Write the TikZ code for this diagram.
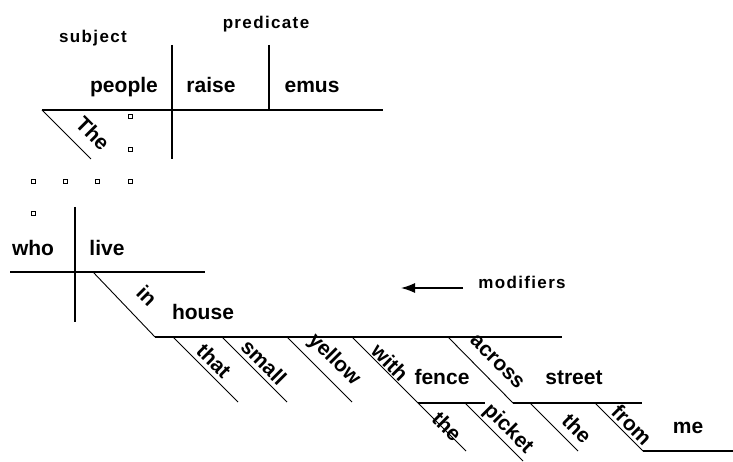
\documentclass[tikz,border=0pt]{standalone}
\usepackage{fontspec}
\setmainfont{Liberation Sans}
\newfontfamily\tagfont{Liberation Sans Bold}[LetterSpace=8]
\usetikzlibrary{arrows.meta}

\begin{document}
\begin{tikzpicture}[
  x=1pt,
  y=-1pt,
  inner sep=0pt,
  word/.style={
    font=\fontsize{21}{24}\selectfont\bfseries,
    anchor=base
  },
  tilted/.style={
    font=\fontsize{21}{24}\selectfont\bfseries,
    rotate=-45
  },
  tag/.style={
    font=\tagfont\fontsize{17}{20}\selectfont,
    anchor=base
  },
  rule/.style={
    line width=1.2pt
  },
  slant/.style={
    line width=0.9pt
  },
  dotbox/.style={
    line width=0.8pt
  },
  a/.style={
    -{Latex[length=14pt,width=10pt]},
    line width=1.2pt
  }
  ]
  \useasboundingbox (0,0) rectangle (733,462);

  % main clause
  \coordinate (base-l) at (42,110);
  \coordinate (base-r) at (383,110);
  \coordinate (split-top) at (172,45);
  \coordinate (split-bot) at (172,159);
  \coordinate (obj-top) at (269,45);
  \coordinate (obj-bot) at (269,110);
  \coordinate (the-end) at (91,159);

  \node (subject) [tag] at (93,43) {subject};
  \node (predicate) [tag] at (266,29) {predicate};
  \node (people) [word] at (124,93) {people};
  \node (raise) [word] at (211,93) {raise};
  \node (emus) [word] at (312,93) {emus};
  \node (the-det) [tilted] at (93,133) {The};

  \draw [rule] (base-l) -- (base-r);
  \draw [rule] (split-top) -- (split-bot);
  \draw [rule] (obj-top) -- (obj-bot);
  \draw [slant] (base-l) -- (the-end);

  % dots
  \foreach \x/\y in {130/116, 130/149, 33/181, 65/181, 97/181, 130/181, 33/213}
    \draw [dotbox] (\x-2,\y-2) rectangle (\x+2,\y+2);

  % relative clause
  \coordinate (clause-l) at (10,272);
  \coordinate (clause-r) at (205,272);
  \coordinate (who-top) at (75,207);
  \coordinate (who-bot) at (75,322);
  \coordinate (in-top) at (93,272);
  \coordinate (house-l) at (155,337);
  \coordinate (house-r) at (562,337);

  \node (who) [word] at (33,255) {who};
  \node (live) [word] at (107,255) {live};
  \node (in-prep) [tilted] at (147,296) {in};
  \node (house) [word] at (203,319) {house};

  \draw [rule] (clause-l) -- (clause-r);
  \draw [rule] (who-top) -- (who-bot);
  \draw [slant] (in-top) -- (house-l);
  \draw [rule] (house-l) -- (house-r);

  % modifiers of house
  \coordinate (that-top) at (173,337);
  \coordinate (that-bot) at (238,402);
  \coordinate (small-top) at (222,337);
  \coordinate (small-bot) at (287,402);
  \coordinate (yellow-top) at (287,337);
  \coordinate (yellow-bot) at (352,402);
  \coordinate (with-top) at (352,337);
  \coordinate (fence-l) at (418,403);
  \coordinate (fence-r) at (485,403);
  \coordinate (the-fence-bot) at (466,451);
  \coordinate (picket-top) at (465,403);
  \coordinate (picket-bot) at (523,461);
  \coordinate (across-top) at (448,337);
  \coordinate (street-l) at (513,403);
  \coordinate (street-r) at (642,403);
  \coordinate (the-street-top) at (530,403);
  \coordinate (the-street-bot) at (578,451);
  \coordinate (from-top) at (595,403);
  \coordinate (me-l) at (643,451);
  \coordinate (me-r) at (733,451);

  \node (that-rel) [tilted] at (214,361) {that};
  \node (small-adj) [tilted] at (264,362) {small};
  \node (yellow-adj) [tilted] at (334,360) {yellow};
  \node (with-prep) [tilted] at (390,362) {with};
  \node (fence) [word] at (442,384) {fence};
  \node (the-fence) [tilted] at (447,426) {the};
  \node (picket-adj) [tilted] at (508,429) {picket};
  \node (across-prep) [tilted] at (497,362) {across};
  \node (street) [word] at (574,384) {street};
  \node (the-street) [tilted] at (577,428) {the};
  \node (from-prep) [tilted] at (632,425) {from};
  \node (me) [word] at (688,433) {me};

  \draw [slant] (that-top) -- (that-bot);
  \draw [slant] (small-top) -- (small-bot);
  \draw [slant] (yellow-top) -- (yellow-bot);
  \draw [slant] (with-top) -- (fence-l) -- (the-fence-bot);
  \draw [rule] (fence-l) -- (fence-r);
  \draw [slant] (picket-top) -- (picket-bot);
  \draw [slant] (across-top) -- (street-l);
  \draw [rule] (street-l) -- (street-r);
  \draw [slant] (the-street-top) -- (the-street-bot);
  \draw [slant] (from-top) -- (me-l);
  \draw [rule] (me-l) -- (me-r);

  % pointer
  \node (modifiers) [tag] at (522,288) {modifiers};
  \coordinate (arrow-start) at (463,288);
  \coordinate (arrow-end) at (401,288);
  \draw [a] (arrow-start) -- (arrow-end);
\end{tikzpicture}
\end{document}
